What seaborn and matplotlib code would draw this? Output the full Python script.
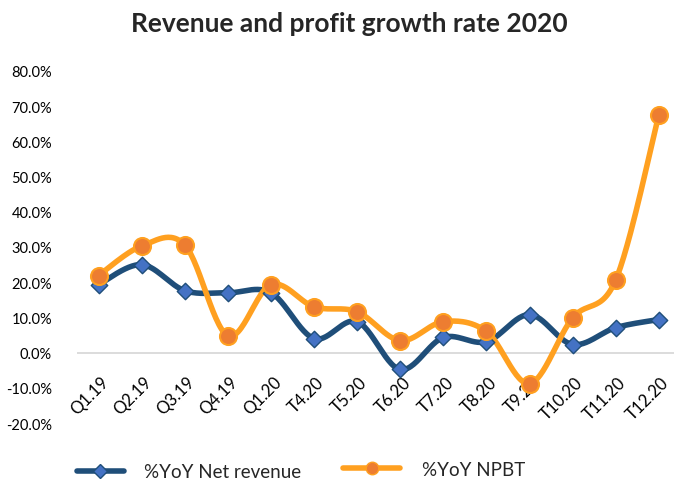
import numpy as np
import pandas as pd
import seaborn as sns
import matplotlib.pyplot as plt
from matplotlib.lines import Line2D
from matplotlib.ticker import FuncFormatter
from matplotlib.transforms import ScaledTranslation

# values (% YoY)
periods = ["Q1.19", "Q2.19", "Q3.19", "Q4.19", "Q1.20", "T4.20", "T5.20",
           "T6.20", "T7.20", "T8.20", "T9.20", "T10.20", "T11.20", "T12.20"]
revenue_yoy = [19.3, 25.0, 17.6, 17.0, 17.0, 4.0, 8.8, -4.8, 4.3, 3.1, 10.8, 2.3, 7.1, 9.4]
npbt_yoy = [21.9, 30.3, 30.6, 4.8, 19.3, 13.0, 11.6, 3.4, 8.8, 6.0, -8.8, 9.9, 20.7, 67.6]

yticks = np.arange(-20, 81, 10)

blue_line = "#1F4E79"
blue_mark = "#4472C4"
orange_line = "#FFA020"
orange_mark = "#ED7D31"


def smooth(y, n=30):
    # excel style smoothed line (catmull-rom as bezier segments)
    pts = np.column_stack([np.arange(len(y)), np.asarray(y, dtype=float)])
    last = len(pts) - 1
    t = np.linspace(0, 1, n)[:, None]
    out = []
    for i in range(last):
        p0, p1, p2, p3 = pts[max(i - 1, 0)], pts[i], pts[i + 1], pts[min(i + 2, last)]
        c1 = p1 + (p2 - p0) / 6
        c2 = p2 - (p3 - p1) / 6
        seg = (1 - t)**3 * p1 + 3 * (1 - t)**2 * t * c1 + 3 * (1 - t) * t**2 * c2 + t**3 * p2
        out.append(seg if i == 0 else seg[1:])
    return np.vstack(out)


df = pd.DataFrame({"x": np.arange(len(periods)), "rev": revenue_yoy, "npbt": npbt_yoy})
rev_s = smooth(revenue_yoy)
npbt_s = smooth(npbt_yoy)

sns.set_style("white")
plt.rcParams["font.family"] = ["Lato", "DejaVu Sans"]

fig = plt.figure(figsize=(6.74, 4.81), dpi=100)
ax = fig.add_axes([77 / 674, 1 - 424 / 481, (674 - 77) / 674, (424 - 72) / 481])

ax.axhline(0, color="#D9D9D9", lw=1.3, zorder=1)

sns.lineplot(x=rev_s[:, 0], y=rev_s[:, 1], sort=False, estimator=None,
             color=blue_line, lw=4, ax=ax, zorder=2)
sns.lineplot(x=npbt_s[:, 0], y=npbt_s[:, 1], sort=False, estimator=None,
             color=orange_line, lw=4, ax=ax, zorder=3)
sns.scatterplot(data=df, x="x", y="rev", marker="D", s=70, color=blue_mark,
                edgecolor=blue_line, linewidth=1, ax=ax, zorder=4)
sns.scatterplot(data=df, x="x", y="npbt", marker="o", s=150, color=orange_mark,
                edgecolor=orange_line, linewidth=1.5, ax=ax, zorder=5)

# category axis crosses at 0 (set before ticks, it resets them)
ax.spines["bottom"].set_position(("data", 0))
for s in ax.spines.values():
    s.set_visible(False)

ax.set_xlim(-0.5, 13.35)
ax.set_ylim(-20, 80)
ax.set_yticks(yticks)
ax.yaxis.set_major_formatter(FuncFormatter(lambda v, p: f"{v:.1f}%"))
ax.set_xticks(df["x"])
ax.set_xticklabels(periods)
ax.tick_params(axis="y", labelsize=10.5, length=0, pad=18, colors="black")
ax.tick_params(axis="x", labelsize=12, length=0, pad=15, colors="black")
shift = ScaledTranslation(2 / 100, 0, fig.dpi_scale_trans)
for lab in ax.get_xticklabels():
    lab.set_rotation(45)
    lab.set_ha("right")
    lab.set_va("top")
    lab.set_rotation_mode("anchor")
    lab.set_transform(lab.get_transform() + shift)
ax.set_xlabel("")
ax.set_ylabel("")

fig.suptitle("Revenue and profit growth rate 2020", fontsize=19, fontweight="bold",
             x=0.518, y=0.975)

h_rev = Line2D([], [], color=blue_line, lw=4, marker="D", markersize=7,
               markerfacecolor=blue_mark, markeredgecolor=blue_line)
h_npbt = Line2D([], [], color=orange_line, lw=4, marker="o", markersize=9,
                markerfacecolor=orange_mark, markeredgecolor=orange_line)
fig.legend([h_rev], ["%YoY Net revenue"], loc="center left",
           bbox_to_anchor=(77 / 674, 0.017), frameon=False, fontsize=13.5,
           handlelength=2.5, handletextpad=1.05, borderpad=0, borderaxespad=0)
fig.legend([h_npbt], ["%YoY NPBT"], loc="center left",
           bbox_to_anchor=(343 / 674, 0.022), frameon=False, fontsize=13.5,
           handlelength=3.05, handletextpad=1.15, borderpad=0, borderaxespad=0)

fig.savefig("out.png", dpi=100)
